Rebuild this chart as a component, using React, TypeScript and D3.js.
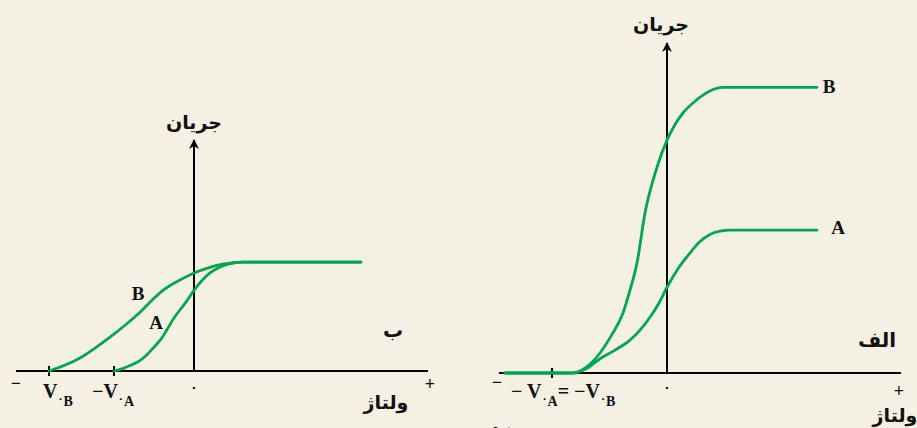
import { useEffect, useRef } from "react";
import * as d3 from "d3";

// photoelectric current vs voltage, two panels (data units: voltage, current)
const leftCurveB = [[-2.9, 0], [-2.6, 0.05], [-2.28, 0.12], [-1.98, 0.21], [-1.68, 0.31], [-1.38, 0.42], [-1.08, 0.54], [-0.84, 0.65], [-0.62, 0.74], [-0.3, 0.83], [0, 0.9], [0.24, 0.94], [0.46, 0.97], [0.72, 0.99], [0.98, 1.0], [3.34, 1.0]];
const leftCurveA = [[-1.6, 0], [-1.44, 0.02], [-1.28, 0.05], [-1.1, 0.09], [-0.94, 0.15], [-0.82, 0.21], [-0.68, 0.28], [-0.38, 0.5], [-0.18, 0.62], [0, 0.74], [0.16, 0.83], [0.32, 0.9], [0.5, 0.95], [0.68, 0.98], [0.84, 0.995], [0.98, 1.0], [3.34, 1.0]];
const leftTicks = [-2.9, -1.6];

const rightCurveB = [[-3.24, 0], [-1.88, 0], [-1.62, 0.04], [-1.34, 0.14], [-1.1, 0.27], [-0.88, 0.42], [-0.74, 0.58], [-0.6, 0.77], [-0.44, 1.12], [-0.2, 1.44], [0, 1.63], [0.16, 1.74], [0.32, 1.82], [0.52, 1.89], [0.72, 1.945], [0.92, 1.985], [1.12, 2.0], [3.0, 2.0]];
const rightCurveA = [[-3.24, 0], [-1.88, 0], [-1.62, 0.03], [-1.34, 0.1], [-1.04, 0.16], [-0.74, 0.23], [-0.54, 0.3], [-0.34, 0.39], [-0.16, 0.49], [0, 0.6], [0.24, 0.74], [0.46, 0.84], [0.66, 0.92], [0.86, 0.97], [1.06, 0.993], [1.26, 1.0], [3.0, 1.0]];
const rightTicks = [-2.3];

const GREEN = "#00a551";
const BG = "#f4f0e3";
const LATIN = "'Liberation Serif', 'Times New Roman', serif";
const PERSIAN = "'DejaVu Sans', sans-serif";

export default function App() {
    const svgRef = useRef(null);

    useEffect(() => {
        const svg = d3.select(svgRef.current);
        svg.selectAll("*").remove();

        svg.append("rect").attr("width", 917).attr("height", 428).attr("fill", BG);

        const defs = svg.append("defs");
        defs.append("marker")
            .attr("id", "arrow")
            .attr("viewBox", "0 0 10 10")
            .attr("refX", 9)
            .attr("refY", 5)
            .attr("markerWidth", 5)
            .attr("markerHeight", 8)
            .attr("markerUnits", "strokeWidth")
            .attr("orient", "auto")
            .append("path")
            .attr("d", "M0,0 L10,5 L0,10 L3,5 Z")
            .attr("fill", "#000");

        function panel(opts) {
            const { xRange, xDomain, yRange, yDomain, curves, ticks } = opts;
            const x = d3.scaleLinear().domain(xDomain).range(xRange);
            const y = d3.scaleLinear().domain(yDomain).range(yRange);
            const g = svg.append("g");

            // axes
            g.append("line")
                .attr("x1", x(xDomain[0])).attr("x2", x(xDomain[1]))
                .attr("y1", y(0)).attr("y2", y(0))
                .attr("stroke", "#000").attr("stroke-width", 2);
            g.append("line")
                .attr("x1", x(0)).attr("x2", x(0))
                .attr("y1", y(0)).attr("y2", y(yDomain[1]))
                .attr("stroke", "#000").attr("stroke-width", 2)
                .attr("marker-end", "url(#arrow)");

            g.selectAll(".tick")
                .data(ticks)
                .enter()
                .append("line")
                .attr("x1", (d) => x(d)).attr("x2", (d) => x(d))
                .attr("y1", y(0) - 5).attr("y2", y(0) + 5)
                .attr("stroke", "#000").attr("stroke-width", 2);

            const line = d3.line()
                .x((d) => x(d[0]))
                .y((d) => y(d[1]))
                .curve(d3.curveMonotoneX);

            curves.forEach((c) => {
                g.append("path")
                    .attr("d", line(c))
                    .attr("fill", "none")
                    .attr("stroke", GREEN)
                    .attr("stroke-width", 2.8)
                    .attr("stroke-linecap", "round");
            });
            return { x, y, g };
        }

        const L = panel({
            xDomain: [-3.56, 4.68], xRange: [16, 428],
            yDomain: [0, 2.12], yRange: [371, 140],
            curves: [leftCurveB, leftCurveA], ticks: leftTicks,
        });
        const R = panel({
            xDomain: [-3.36, 4.68], xRange: [499, 901],
            yDomain: [0, 2.31], yRange: [373, 43],
            curves: [rightCurveB, rightCurveA], ticks: rightTicks,
        });

        const txt = (x, y, s, size, font, anchor = "middle") =>
            svg.append("text")
                .attr("x", x).attr("y", y)
                .attr("text-anchor", anchor)
                .attr("font-family", font)
                .attr("font-weight", "bold")
                .attr("font-size", size)
                .attr("fill", "#111")
                .text(s);

        // left panel text
        txt(194, 129, "جریان", 19, PERSIAN);
        txt(386, 409, "ولتاژ", 19, PERSIAN);
        txt(393, 337, "ب", 20, PERSIAN);
        txt(16, 389, "−", 18, LATIN);
        txt(430, 390, "+", 18, LATIN);
        txt(L.x(0), 391, "۰", 12, PERSIAN);
        txt(138, 300, "B", 19, LATIN);
        txt(156, 329, "A", 19, LATIN);

        const vLabel = (x0, y0, prefix, sub) => {
            const t = svg.append("text")
                .attr("x", x0).attr("y", y0)
                .attr("font-family", LATIN)
                .attr("font-weight", "bold")
                .attr("font-size", 20)
                .attr("fill", "#111");
            t.append("tspan").text(prefix + "V");
            t.append("tspan").attr("font-size", 10).attr("font-family", PERSIAN).attr("dy", 4).text("۰");
            t.append("tspan").attr("font-size", 14).attr("dy", 4).text(sub);
            return t;
        };
        vLabel(43, 398, "", "B");
        vLabel(92, 398, "−", "A");

        // right panel text
        txt(661, 31, "جریان", 19, PERSIAN);
        txt(895, 422, "ولتاژ", 19, PERSIAN);
        txt(877, 347, "الف", 20, PERSIAN);
        txt(497, 388, "−", 18, LATIN);
        txt(899, 397, "+", 18, LATIN);
        txt(R.x(0), 391, "۰", 12, PERSIAN);
        txt(829, 93, "B", 19, LATIN);
        txt(838, 234, "A", 19, LATIN);

        const eq = svg.append("text")
            .attr("x", 511).attr("y", 398)
            .attr("font-family", LATIN)
            .attr("font-weight", "bold")
            .attr("font-size", 20)
            .attr("fill", "#111");
        eq.append("tspan").text("− V");
        eq.append("tspan").attr("font-size", 10).attr("font-family", PERSIAN).attr("dy", 4).text("۰");
        eq.append("tspan").attr("font-size", 14).attr("dy", 4).text("A");
        eq.append("tspan").attr("dy", -8).text("= −V");
        eq.append("tspan").attr("font-size", 10).attr("font-family", PERSIAN).attr("dy", 4).text("۰");
        eq.append("tspan").attr("font-size", 14).attr("dy", 4).text("B");

        // caption cut off at the bottom edge, as in the source figure
        txt(505, 441, "شکل", 18, PERSIAN);
    }, []);

    return (
        <div style={{ position: "fixed", left: 0, top: 0 }}>
            <svg ref={svgRef} width={917} height={428} style={{ display: "block" }} />
        </div>
    );
}
